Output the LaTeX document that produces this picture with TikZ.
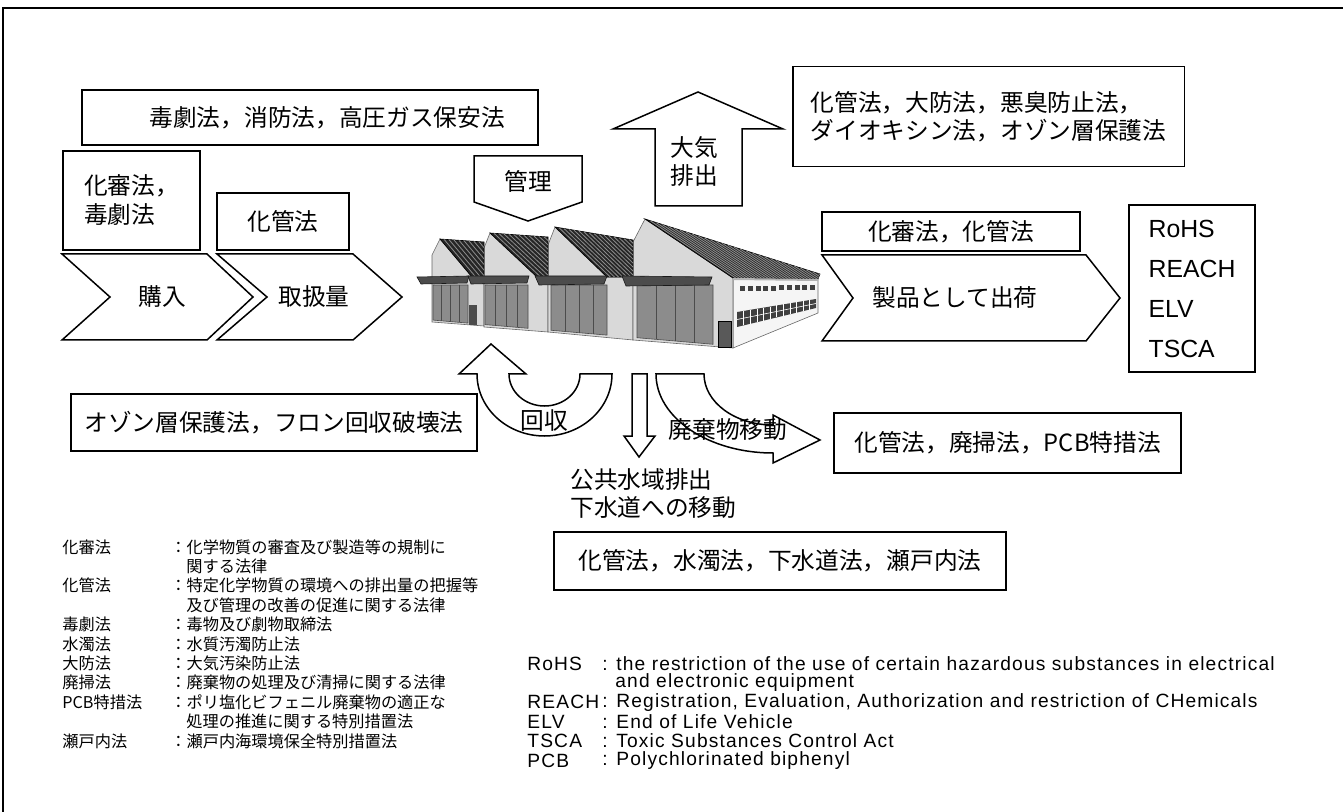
\documentclass[tikz,border=0pt]{standalone}
\usepackage{fontspec}
\setmainfont{Liberation Sans}
\newfontfamily\jpfont{Noto Sans CJK JP}
\newfontfamily\engfont[LetterSpace=6]{Liberation Sans}
\usetikzlibrary{positioning}

\begin{document}
\begin{tikzpicture}[x=0.5pt,y=-0.5pt,line join=miter,
  box/.style={draw, line width=0.75pt, fill=white, inner sep=0pt, align=center, font=\jpfont\fontsize{11.85}{14.5}\selectfont},
  flow/.style={draw, line width=0.75pt, fill=white},
  tag/.style={inner sep=0pt, align=center, font=\jpfont\fontsize{11.85}{14}\selectfont},
  lawkey/.style={inner sep=0pt, anchor=west, font=\jpfont\fontsize{8.1}{9.75}\selectfont},
  engkey/.style={inner sep=0pt, anchor=west, font=\engfont\fontsize{9.6}{10}\selectfont},
  wall/.style={fill=black!15, draw=black!60, line width=0.3pt},
  endwall/.style={fill=black!4, draw=black!60, line width=0.3pt},
  roof/.style={fill=black!85, draw=black, line width=0.3pt},
  awning/.style={fill=black!70, draw=black!90, line width=0.3pt},
  door/.style={fill=black!45, draw=black!70, line width=0.3pt}]
\useasboundingbox (0,0) rectangle (1343,812);
\draw[line width=0.75pt] (3,812) -- (3,8) -- (1343,8);

% factory
\path[endwall] (733,278) -- (818,279) -- (818,313) -- (733,348) -- cycle;
\path[wall] (432,322) -- (432,255) -- (440,239) -- (472,277) -- (484,277) -- (484,326) -- cycle;
\path[wall] (484,327) -- (484,248) -- (490,233) -- (537,277) -- (548,277) -- (548,332) -- cycle;
\path[wall] (548,332) -- (548,245) -- (555,227) -- (607,277) -- (633,277) -- (633,340) -- cycle;
\path[wall] (633,340) -- (633,242) -- (645,219) -- (733,278) -- (733,348) -- cycle;
\path[roof] (440,239) -- (484,242) -- (484,277) -- (472,277) -- cycle;
\path[roof] (490,233) -- (548,237) -- (548,277) -- (537,277) -- cycle;
\path[roof] (555,227) -- (633,240) -- (633,277) -- (607,277) -- cycle;
\path[roof] (645,219) -- (820,274) -- (818,279) -- (733,278) -- cycle;
\begin{scope}
\clip (440,239) -- (484,242) -- (484,277) -- (472,277) -- cycle;
\foreach \d in {4,9,...,44} \draw[black!45, line width=0.4pt] ({440+\d},{239+\d*0.07}) -- ++(32,38);
\end{scope}
\begin{scope}
\clip (490,233) -- (548,237) -- (548,277) -- (537,277) -- cycle;
\foreach \d in {4,9,...,58} \draw[black!45, line width=0.4pt] ({490+\d},{233+\d*0.07}) -- ++(47,44);
\end{scope}
\begin{scope}
\clip (555,227) -- (633,240) -- (633,277) -- (607,277) -- cycle;
\foreach \d in {4,9,...,78} \draw[black!45, line width=0.4pt] ({555+\d},{227+\d*0.167}) -- ++(52,50);
\end{scope}
\begin{scope}
\clip (645,219) -- (820,274) -- (818,279) -- (733,278) -- cycle;
\foreach \d in {5,11,...,175} \draw[black!45, line width=0.4pt] ({645+\d},{219+\d*0.314}) -- ++(88,59);
\end{scope}
\draw[black!30, line width=1pt] (733,279) -- (818,280);
\foreach \a/\b in {433/468, 485/528, 551/607, 637/713} {
  \path[door] (\a,285) -- (\b,285) -- (\b,{320+0.0864*(\b-432)}) -- (\a,{320+0.0864*(\a-432)}) -- cycle;
  \foreach \i in {1,2,3} {
    \pgfmathsetmacro\px{\a+\i*(\b-\a)/4}
    \draw[black!70, line width=0.3pt] (\px,285) -- (\px,{320+0.0864*(\px-432)});
  }
}
\path[awning] (417,277) -- (469,276) -- (467,283) -- (421,284) -- cycle;
\path[awning] (468,276) -- (529,276) -- (527,283) -- (471,284) -- cycle;
\path[awning] (535,276) -- (607,276) -- (604,284) -- (539,285) -- cycle;
\path[awning] (622,276) -- (712,277) -- (709,285) -- (626,286) -- cycle;
\path[fill=black!70] (469,305) rectangle (477,325);
\path[fill=black!65, draw=black, line width=0.3pt] (718,321) rectangle (731,347);
\foreach \i in {0,...,9} \fill[black!75] ({740+\i*7.8},{286-\i*0.1}) rectangle ++(5,5);
\path[fill=black!75] (737,312) -- (816,299) -- (816,308) -- (737,327) -- cycle;
\foreach \i in {1,...,11} \draw[white, line width=0.3pt] ({737+\i*6.6},{312-\i*1.09}) -- ++(0,{15-\i*0.5});
\draw[white, line width=0.3pt] (737,319.5) -- (816,303.5);

% flow arrows
\draw[flow] (62,254) -- (207,254) -- (253,297) -- (207,340) -- (62,340) -- (110,297) -- cycle;
\draw[flow] (217,254) -- (353,254) -- (402,297) -- (353,340) -- (217,340) -- (267,297) -- cycle;
\draw[flow] (822,255) -- (1086,255) -- (1120,298) -- (1086,341) -- (822,341) -- (853,298) -- cycle;
\draw[flow] (474,156) -- (582,156) -- (582,202) -- (528,221) -- (474,202) -- cycle;
\draw[flow] (655,206) -- (655,129) -- (613,129) -- (698,92) -- (783,129) -- (742,129) -- (742,206) -- cycle;
\draw[flow] (491,344) -- (526,374) -- (509,374) arc[start angle=180, end angle=0, x radius=35.5, y radius=32]
  -- (612,374) arc[start angle=0, end angle=180, x radius=67.5, y radius=62] -- (459,374) -- cycle;
\draw[flow] (632,374) -- (647,374) -- (647,436) -- (655,436) -- (639,457) -- (624,436) -- (632,436) -- cycle;
\draw[flow] (656,374) -- (704,374) arc[start angle=180, end angle=90, x radius=69, y radius=51]
  -- (773,415) -- (820,440) -- (773,463) -- (773,453) arc[start angle=90, end angle=180, x radius=117, y radius=79] -- cycle;

\node[tag] (konyu) at (162,297) {購入};
\node[tag] (toriatsukai) at (314,297) {取扱量};
\node[tag] (kanri) at (528,181) {管理};
\node[tag] (haishutsu) at (694,161) {大気\\排出};
\node[tag] (shukka) at (955,298) {製品として出荷};
\node[tag] (kaishu) at (544,421) {回収};
\node[tag] (idou) at (728,430) {廃棄物移動};
\node[tag, anchor=west, align=left] (haisui) at (570,494) {公共水域排出\\下水道への移動};

% law boxes
\node[box, align=right, text width=195pt, minimum width=228pt, minimum height=27.5pt] (dokugeki) at (310,117.5) {毒劇法，消防法，高圧ガス保安法};
\node[box, align=left, minimum width=68.5pt, minimum height=49.5pt] (kashin) at (131.5,200.5) {化審法，\\毒劇法};
\node[box, minimum width=66pt, minimum height=28.5pt] (kakan) at (283,221.5) {化管法};
\node[box, anchor=north west, align=left, inner xsep=9pt, minimum height=50pt, font=\jpfont\fontsize{11.85}{14}\selectfont] (taiki) at (792,66) {化管法，大防法，悪臭防止法，\\ダイオキシン法，オゾン層保護法};
\node[box, minimum width=129pt, minimum height=19.5pt] (seihin) at (951,231.5) {化審法，化管法};
\node[box, align=left, minimum width=63pt, minimum height=83.5pt, font=\fontsize{12.4}{20}\selectfont] (rohs) at (1192,288.5) {RoHS\\REACH\\ELV\\TSCA};
\node[box, minimum width=203pt, minimum height=28.5pt] (ozone) at (274,422.5) {オゾン層保護法，フロン回収破壊法};
\node[box, minimum width=173.5pt, minimum height=30pt] (haiso) at (1007.5,443) {化管法，廃掃法，PCB特措法};
\node[box, minimum width=226pt, minimum height=29pt] (suidaku) at (780,561) {化管法，水濁法，下水道法，瀬戸内法};

% abbreviations
\foreach \k/\t/\y [count=\i] in {化審法/化学物質の審査及び製造等の規制に/547, 化管法/特定化学物質の環境への排出量の把握等/585.8,
    毒劇法/毒物及び劇物取締法/624.6, 水濁法/水質汚濁防止法/644, 大防法/大気汚染防止法/663.4,
    廃掃法/廃棄物の処理及び清掃に関する法律/682.8, PCB特措法/ポリ塩化ビフェニル廃棄物の適正な/702.2, 瀬戸内法/瀬戸内海環境保全特別措置法/741} {
  \node[lawkey] (law\i) at (62,\y) {\k};
  \node[lawkey] (lawtext\i) at (170,\y) {：\t};
}
\foreach \t/\y [count=\i] in {関する法律/566.4, 及び管理の改善の促進に関する法律/605.2, 処理の推進に関する特別措置法/721.6}
  \node[lawkey] (lawmore\i) at (186,\y) {\t};
\foreach \k/\t/\y [count=\i] in {RoHS/the restriction of the use of certain hazardous substances in electrical/663.4,
    REACH/{Registration, Evaluation, Authorization and restriction of CHemicals}/702.2, ELV/End of Life Vehicle/721.6,
    TSCA/Toxic Substances Control Act/741, PCB/Polychlorinated biphenyl/760.4} {
  \node[engkey] (eng\i) at (527,\y) {\k};
  \node[engkey] (engtext\i) at (602,\y) {: \t};
}
\node[engkey] (engmore) at (615,682.8) {and electronic equipment};
\end{tikzpicture}
\end{document}
